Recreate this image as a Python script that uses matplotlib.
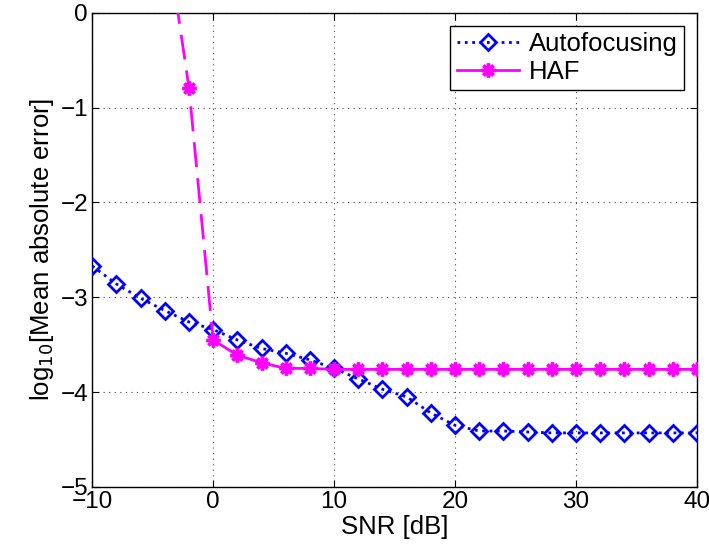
import matplotlib.pyplot as plt
import numpy as np

plt.rcParams['font.family'] = ['Liberation Sans', 'DejaVu Sans']

snr = np.arange(-10, 41, 2)
auto_err = [-2.67, -2.86, -3.01, -3.14, -3.26, -3.34, -3.45, -3.54, -3.59, -3.66,
            -3.75, -3.86, -3.97, -4.05, -4.22, -4.35, -4.41, -4.41, -4.42, -4.43,
            -4.43, -4.43, -4.43, -4.43, -4.43, -4.43]

# HAF: low-SNR branch (dashed) and the rest (solid)
haf_low_snr = [-4, -2, 0]
haf_low_err = [0.95, -0.79, -3.45]
haf_snr = np.arange(0, 41, 2)
haf_err = [-3.45, -3.61, -3.69, -3.75, -3.75, -3.76, -3.76, -3.76, -3.76, -3.76,
           -3.76, -3.76, -3.76, -3.76, -3.76, -3.76, -3.76, -3.76, -3.76, -3.76, -3.76]

asterisk = (8, 2, 0)
fs = 18.5

fig = plt.figure(figsize=(7.09, 5.54), dpi=100)
ax = fig.add_axes([0.130, 0.121, 0.853, 0.856])

ax.plot(snr, auto_err, ':', color='#0000ff', lw=2, marker='D', ms=8,
        mfc='none', mec='#0000ff', mew=2, label='Autofocusing', zorder=3)
ax.plot(haf_low_snr, haf_low_err, '--', color='#ff00ff', lw=2, dashes=(9, 4),
        marker=asterisk, ms=10, mew=2.5, markevery=[1], zorder=3)
ax.plot(haf_snr, haf_err, '-', color='#ff00ff', lw=2, marker=asterisk, ms=10,
        mew=2.5, label='HAF', zorder=3)

ax.set_xlim(-10, 40)
ax.set_ylim(-5, 0)
ax.set_xticks(np.arange(-10, 41, 10))
ax.set_yticks(np.arange(-5, 1, 1))
ax.grid(True, linestyle=(0, (1, 4)), color='0.3', lw=0.8)
ax.tick_params(direction='in', top=True, right=True, labelsize=17.5, length=5, pad=3)
for s in ax.spines.values():
    s.set_linewidth(1.0)

ax.set_xlabel('SNR [dB]', fontsize=fs, labelpad=1)
ax.set_ylabel('log$_{10}$[Mean absolute error]', fontsize=fs, labelpad=3)

leg = ax.legend(loc='upper right', fontsize=fs, fancybox=False, framealpha=1,
                edgecolor='black', handlelength=2.4, handletextpad=0.4,
                borderpad=0.25, labelspacing=0.15, borderaxespad=0.5)
leg.get_frame().set_linewidth(1.0)

fig.savefig('out.png', dpi=100)
